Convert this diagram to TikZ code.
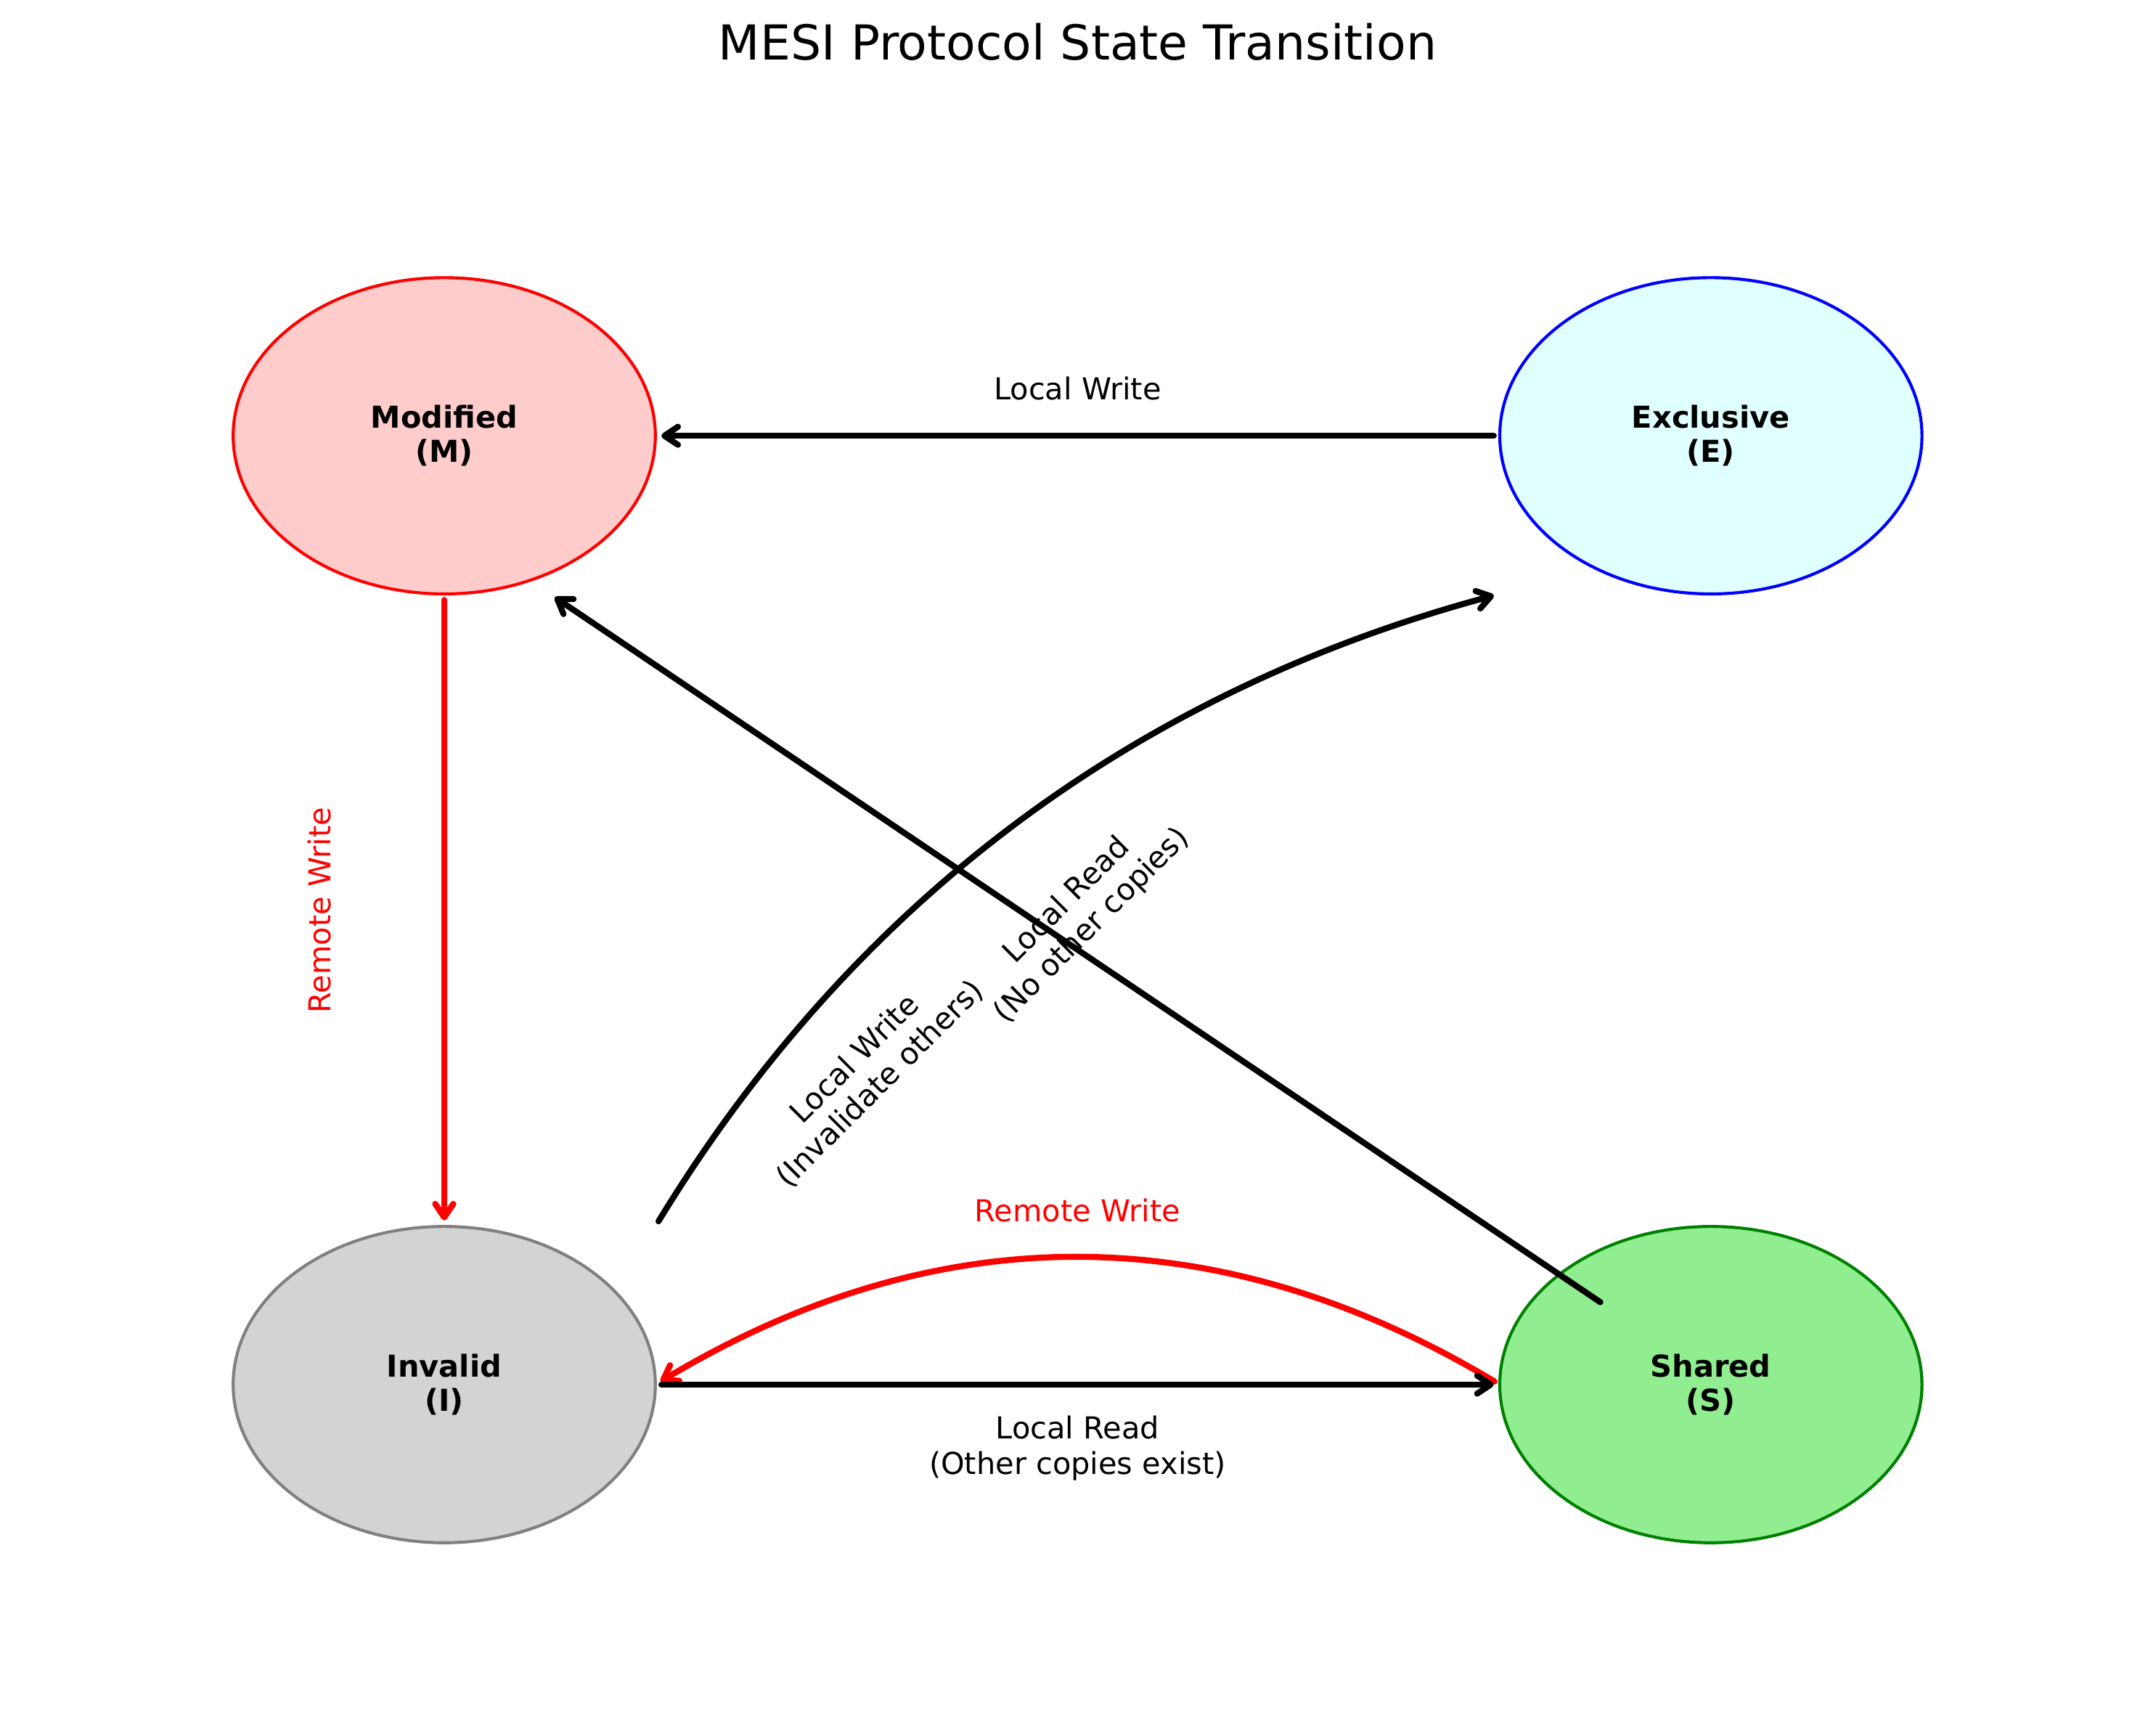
\documentclass[tikz,border=0pt]{standalone}
\usepackage{fontspec}
\setmainfont{DejaVu Sans}
\usetikzlibrary{arrows.meta,calc,shapes.geometric}
\definecolor{mfill}{HTML}{FFCCCC}
\definecolor{efill}{HTML}{E0FFFF}
\definecolor{ifill}{HTML}{D3D3D3}
\definecolor{iedge}{HTML}{808080}
\definecolor{sfill}{HTML}{90EE90}
\definecolor{sedge}{HTML}{008000}
\definecolor{pred}{HTML}{FF0000}
\definecolor{pblue}{HTML}{0000FF}
\begin{document}
\begin{tikzpicture}[x=2.4621cm,y=1.8440cm,
  state/.style={ellipse, draw, line width=1pt, minimum width=4.9242cm, minimum height=3.688cm,
    inner sep=0pt, outer sep=0pt, font=\fontsize{10}{11.3}\selectfont\bfseries, align=center},
  arr/.style={line width=2pt, line cap=round, line join=round,
    -{Straight Barb[length=4.5pt,width=6pt,round]}, shorten <=2pt, shorten >=2pt},
  lbl/.style={font=\fontsize{10}{11.8}\selectfont, align=center, inner sep=0pt}]
\useasboundingbox (-0.1045,-0.1396) rectangle (10.1087,10.7557);

\node[font=\fontsize{16}{19}\selectfont, anchor=base, inner sep=0pt] (title) at (5,10.379) {MESI Protocol State Transition};

\node[state, draw=pred, fill=mfill] (M) at (2,8) {Modified\\(M)};
\node[state, draw=pblue, fill=efill] (E) at (8,8) {Exclusive\\(E)};
\node[state, draw=iedge, fill=ifill] (I) at (2,2) {Invalid\\(I)};
\node[state, draw=sedge, fill=sfill] (S) at (8,2) {Shared\\(S)};

% E -> M
\draw[arr] (E.west) -- (M.east);
% M -> I
\draw[arr, pred] (M.south) -- (I.north);
% S -> M
\coordinate (smA) at ($(S)+(-0.5,0.5)$);
\coordinate (smB) at ($(M)+(0.5,-1)$);
\draw[arr] (smA) -- (smB);
% I -> E curved
\coordinate (ieA) at ($(I)+(1,1)$);
\coordinate (ieB) at ($(E)+(-1,-1)$);
\draw[arr] (ieA) .. controls ($(I)+(1.934,3.045)$) and ($(E)+(-2.733,-1.621)$) .. (ieB);
% S -> I curved red
\draw[arr, pred] (S.west) .. controls ($(S)+(-2.333,1.068)$) and ($(I)+(2.333,1.068)$) .. (I.east);
% I -> S
\draw[arr] (I.east) -- (S.west);

\node[lbl] (tEM) at (5,8.3) {Local Write};
\node[lbl, text=pred, rotate=90] (tMI) at (1.41,5) {Remote Write};
\node[lbl, rotate=45] (tSM) at (5.01,4.98) {Local Read\\(No other copies)};
\node[lbl, rotate=45] (tIE) at (4.005,3.98) {Local Write\\(Invalidate others)};
\node[lbl, text=pred] (tSI) at (5,3.1) {Remote Write};
\node[lbl] (tIS) at (5,1.6) {Local Read\\(Other copies exist)};
\end{tikzpicture}
\end{document}
